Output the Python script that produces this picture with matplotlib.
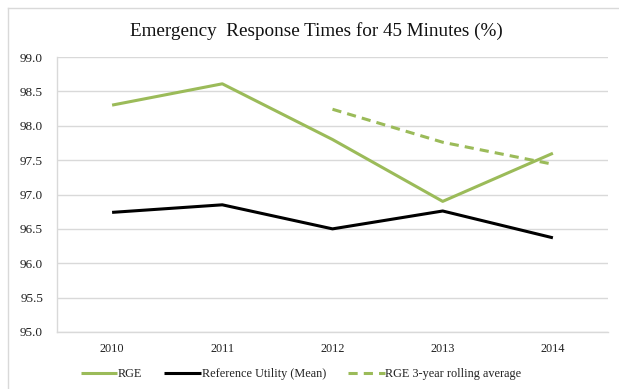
import matplotlib
matplotlib.use("Agg")
import matplotlib.pyplot as plt
from matplotlib.lines import Line2D
import numpy as np

years = ["2010", "2011", "2012", "2013", "2014"]
rge = [98.30, 98.61, 97.80, 96.90, 97.60]
reference_mean = [96.74, 96.85, 96.50, 96.76, 96.37]
rolling_years = ["2012", "2013", "2014"]
rge_rolling = [98.24, 97.76, 97.44]
y_ticks = [95.0, 95.5, 96.0, 96.5, 97.0, 97.5, 98.0, 98.5, 99.0]

green = "#9BBB59"
grid_gray = "#D9D9D9"
serif = ["Liberation Serif", "DejaVu Serif"]

W, H = 619, 389
fig = plt.figure(figsize=(W / 100, H / 100), dpi=100)

# chart frame (top and left edges)
fig.add_artist(Line2D([8 / W, 8 / W], [0, 1 - 8 / H], color=grid_gray, lw=1.0))
fig.add_artist(Line2D([8 / W, 1], [1 - 8 / H, 1 - 8 / H], color=grid_gray, lw=1.0))

ax = fig.add_axes([57 / W, 1 - 332 / H, (608 - 57) / W, (332 - 57) / H])

x = np.arange(len(years))
rx = np.array([years.index(y) for y in rolling_years])

ax.plot(x, rge, color=green, lw=2.2, label="RGE", solid_capstyle="butt")
ax.plot(x, reference_mean, color="black", lw=2.2, label="Reference Utility (Mean)",
        solid_capstyle="butt")
ax.plot(rx, rge_rolling, color=green, lw=2.2, ls=(0, (3, 2)),
        label="RGE 3-year rolling average")

ax.set_xlim(-0.5, len(years) - 0.5)
ax.set_ylim(95.0, 99.0)
ax.set_yticks(y_ticks)
ax.set_yticklabels([f"{v:.1f}" for v in y_ticks], fontfamily=serif, fontsize=9.5)
ax.set_xticks(x)
ax.set_xticklabels(years, fontfamily=serif, fontsize=8.8)
ax.tick_params(axis="both", length=0, colors="#222222")
ax.tick_params(axis="y", pad=10)
ax.tick_params(axis="x", pad=8)
ax.grid(axis="y", color=grid_gray, lw=1.0)
ax.set_axisbelow(True)
for side in ("top", "right"):
    ax.spines[side].set_visible(False)
for side in ("left", "bottom"):
    ax.spines[side].set_color(grid_gray)
    ax.spines[side].set_linewidth(1.0)

fig.text(316 / W, 1 - 31 / H, "Emergency  Response Times for 45 Minutes (%)",
         ha="center", va="center", fontfamily=serif, fontsize=13.8, color="#111111")

leg = fig.legend(loc="center", bbox_to_anchor=(301 / W, 1 - 374 / H), ncol=3,
                 frameon=False, prop={"family": serif, "size": 8.8},
                 handlelength=3.0, handletextpad=0.05, columnspacing=1.8)
for t in leg.get_texts():
    t.set_color("#222222")

fig.savefig("out.png", dpi=100)
